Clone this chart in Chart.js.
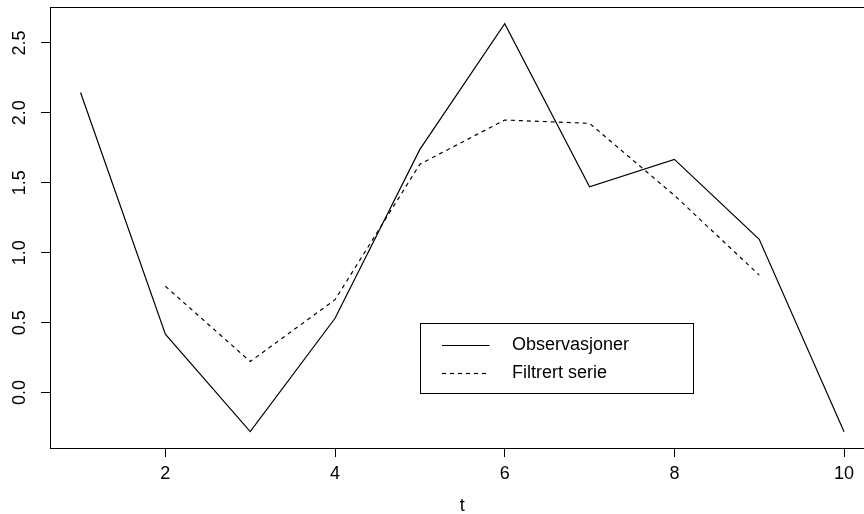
<!DOCTYPE html>
<html>
<head>
<meta charset="utf-8">
<script src="https://cdn.jsdelivr.net/npm/chart.js@4/dist/chart.umd.min.js"></script>
<style>
  html, body { margin: 0; padding: 0; background: #fff; overflow: hidden; }
  #chart { display: block; }
</style>
</head>
<body>
<canvas id="chart" width="880" height="514"></canvas>
<script>
// data
const t = [1, 2, 3, 4, 5, 6, 7, 8, 9, 10];
const observasjoner = [2.146, 0.417, -0.279, 0.531, 1.739, 2.638, 1.471, 1.667, 1.096, -0.28];
const filtrert = [null, 0.76, 0.222, 0.664, 1.633, 1.949, 1.925, 1.41, 0.84, null];

const xTicks = [2, 4, 6, 8, 10];
const yTicks = [0, 0.5, 1, 1.5, 2, 2.5];

const fontFamily = '"Liberation Sans", Arial, Helvetica, sans-serif';
const fontSize = 18;

// R style box around the plot region
const boxPlugin = {
  id: 'box',
  afterDraw(chart) {
    const { ctx, chartArea } = chart;
    ctx.save();
    ctx.strokeStyle = '#000';
    ctx.lineWidth = 1;
    ctx.strokeRect(Math.round(chartArea.left) + 0.5, Math.round(chartArea.top) + 0.5,
      Math.round(chartArea.right - chartArea.left), Math.round(chartArea.bottom - chartArea.top));
    ctx.restore();
  }
};

// legend placed at data coords (5, 0.5) like legend(5, 0.5, ...)
const legendPlugin = {
  id: 'rlegend',
  afterDraw(chart) {
    const { ctx, scales } = chart;
    const left = Math.round(scales.x.getPixelForValue(5)) + 0.5;
    const top = Math.round(scales.y.getPixelForValue(0.5)) + 0.5;
    const w = 273, h = 70;
    ctx.save();
    ctx.fillStyle = '#fff';
    ctx.fillRect(left, top, w, h);
    ctx.strokeStyle = '#000';
    ctx.lineWidth = 1;
    ctx.strokeRect(left, top, w, h);
    ctx.font = fontSize + 'px ' + fontFamily;
    ctx.fillStyle = '#000';
    ctx.textBaseline = 'middle';
    chart.data.datasets.forEach((ds, i) => {
      const y = Math.round(top + 21.5 + i * 27.7) + 0.5;
      ctx.beginPath();
      ctx.lineWidth = ds.borderWidth;
      ctx.setLineDash(ds.borderDash || []);
      ctx.moveTo(left + 21.5, y);
      ctx.lineTo(left + 69, y);
      ctx.stroke();
      ctx.setLineDash([]);
      ctx.fillText(ds.label, left + 91.5, y);
    });
    ctx.restore();
  }
};

const ctx = document.getElementById('chart').getContext('2d');
new Chart(ctx, {
  type: 'line',
  data: {
    datasets: [{
      label: 'Observasjoner',
      data: t.map((v, i) => ({ x: v, y: observasjoner[i] })),
      borderColor: '#000',
      borderWidth: 1.2,
      pointRadius: 0,
      tension: 0,
      fill: false
    }, {
      label: 'Filtrert serie',
      data: t.map((v, i) => ({ x: v, y: filtrert[i] })),
      borderColor: '#000',
      borderWidth: 1.2,
      borderDash: [4, 4],
      pointRadius: 0,
      tension: 0,
      fill: false
    }]
  },
  options: {
    responsive: false,
    animation: false,
    devicePixelRatio: 1,
    layout: { padding: { left: 0, top: 7, right: 5.4, bottom: 0 } },
    plugins: {
      legend: { display: false },
      tooltip: { enabled: false }
    },
    scales: {
      x: {
        type: 'linear',
        min: 0.64,
        max: 10.36,
        afterBuildTicks: scale => { scale.ticks = xTicks.map(v => ({ value: v })); },
        afterFit: scale => {
          scale.height = 66;
          scale.paddingLeft = 0;
          scale.paddingRight = 0;
        },
        grid: { drawOnChartArea: false, drawTicks: true, tickLength: 9, color: '#000' },
        border: { display: false },
        ticks: {
          color: '#000',
          padding: 6,
          maxRotation: 0,
          font: { family: fontFamily, size: fontSize },
          callback: v => String(v)
        },
        title: {
          display: true,
          text: 't',
          color: '#000',
          padding: { top: 0, bottom: -3 },
          font: { family: fontFamily, size: fontSize }
        }
      },
      y: {
        type: 'linear',
        min: -0.3965,
        max: 2.757,
        afterBuildTicks: scale => { scale.ticks = yTicks.map(v => ({ value: v })); },
        afterFit: scale => {
          scale.width = 50;
          scale.paddingTop = 0;
          scale.paddingBottom = 0;
        },
        grid: { drawOnChartArea: false, drawTicks: true, tickLength: 9, color: '#000' },
        border: { display: false },
        ticks: {
          color: '#000',
          padding: 8,
          minRotation: 90,
          maxRotation: 90,
          crossAlign: 'center',
          font: { family: fontFamily, size: fontSize },
          callback: v => v.toFixed(1)
        }
      }
    }
  },
  plugins: [boxPlugin, legendPlugin]
});
</script>
</body>
</html>
